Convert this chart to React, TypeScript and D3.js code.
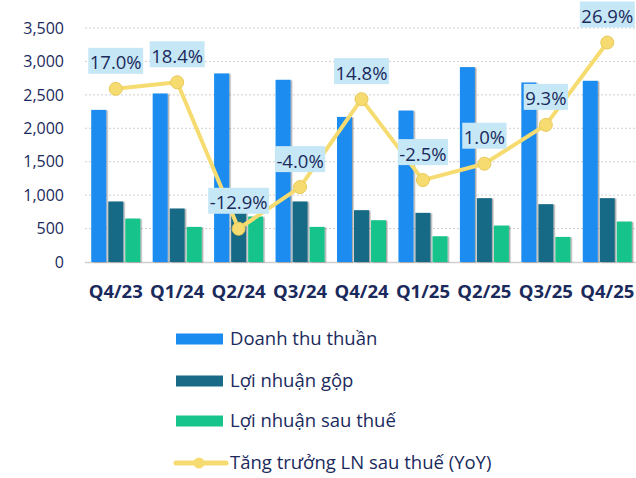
import React, { useEffect, useRef } from "react";
import * as d3 from "d3";

const categories = ["Q4/23", "Q1/24", "Q2/24", "Q3/24", "Q4/24", "Q1/25", "Q2/25", "Q3/25", "Q4/25"];
const revenue = [2275, 2520, 2820, 2725, 2170, 2265, 2915, 2685, 2710];
const grossProfit = [905, 800, 910, 905, 775, 735, 955, 865, 955];
const netProfit = [650, 525, 680, 525, 625, 385, 545, 375, 605];
const growth = [17.0, 18.4, -12.9, -4.0, 14.8, -2.5, 1.0, 9.3, 26.9];
const yTicks = [0, 500, 1000, 1500, 2000, 2500, 3000, 3500];
const seriesNames = ["Doanh thu thuần", "Lợi nhuận gộp", "Lợi nhuận sau thuế", "Tăng trưởng LN sau thuế (YoY)"];
const colors = ["#1a8cf0", "#196a86", "#17c48b"];
const lineColor = "#f6dc70";
const textColor = "#1b2a5c";
const FONT = "'Open Sans', 'Noto Sans', sans-serif";

export default function App() {
  const ref = useRef<SVGSVGElement | null>(null);
  useEffect(() => {
    const svg = d3.select(ref.current);
    svg.selectAll("*").remove();
    const x0 = d3.scaleBand<string>().domain(categories).range([85, 638]).padding(0);
    const groupW = 49;
    const x1 = d3.scaleBand<number>().domain([0, 1, 2]).range([0, groupW]).paddingInner(0.12);
    const y = d3.scaleLinear().domain([0, 3500]).range([262, 28]);
    const y2 = d3.scaleLinear().domain([-20, 30]).range([262, 28]);

    const defs = svg.append("defs");
    const f = defs.append("filter").attr("id", "sh").attr("x", "-20%").attr("y", "-5%").attr("width", "150%").attr("height", "110%");
    f.append("feDropShadow").attr("dx", 1.5).attr("dy", 0.5).attr("stdDeviation", 0.7).attr("flood-color", "#000").attr("flood-opacity", 0.35);

    svg.append("g").selectAll("line").data(yTicks.slice(1)).join("line")
      .attr("x1", 85).attr("x2", 636).attr("y1", d => y(d)).attr("y2", d => y(d))
      .attr("stroke", "#cfcfcf").attr("stroke-width", 1).attr("stroke-dasharray", "2,2");
    svg.append("line").attr("x1", 85).attr("x2", 636).attr("y1", y(0) + 0.5).attr("y2", y(0) + 0.5)
      .attr("stroke", "#d0d0d0").attr("stroke-width", 1.5);

    svg.append("g").selectAll("text").data(yTicks).join("text")
      .attr("x", 64).attr("y", d => y(d)).attr("dy", "0.36em").attr("text-anchor", "end")
      .attr("font-family", FONT).attr("font-size", 16).attr("fill", textColor)
      .text(d => d3.format(",")(d));

    svg.append("g").selectAll("text").data(categories).join("text")
      .attr("x", d => (x0(d) as number) + x0.bandwidth() / 2).attr("y", 298)
      .attr("text-anchor", "middle").attr("font-family", FONT).attr("font-weight", 700)
      .attr("font-size", 18.5).attr("fill", textColor).text(d => d);

    const series = [revenue, grossProfit, netProfit];
    const off = (x0.bandwidth() - groupW) / 2;
    series.forEach((vals, si) => {
      svg.append("g").attr("filter", "url(#sh)").selectAll("rect").data(vals).join("rect")
        .attr("x", (_, i) => (x0(categories[i]) as number) + off + (x1(si) as number))
        .attr("width", x1.bandwidth())
        .attr("y", d => y(d)).attr("height", d => y(0) - y(d))
        .attr("fill", colors[si]);
    });

    const cx = (i: number) => (x0(categories[i]) as number) + x0.bandwidth() / 2;
    const line = d3.line<number>().x((_, i) => cx(i)).y(d => y2(d));
    svg.append("path").datum(growth).attr("d", line).attr("fill", "none")
      .attr("stroke", lineColor).attr("stroke-width", 4).attr("stroke-linejoin", "round");
    svg.append("g").selectAll("circle").data(growth).join("circle")
      .attr("cx", (_, i) => cx(i)).attr("cy", d => y2(d)).attr("r", 6.5)
      .attr("fill", lineColor).attr("stroke", "#e8c95a").attr("stroke-width", 1);

    const lg = svg.append("g");
    growth.forEach((v, i) => {
      const g = lg.append("g");
      const px = cx(i), py = y2(v);
      const bottom = py - 15;
      const t = g.append("text").attr("x", px).attr("y", bottom - 4.5).attr("text-anchor", "middle")
        .attr("font-family", FONT).attr("font-size", 18.5).attr("fill", textColor)
        .text(v.toFixed(1) + "%");
      const w = (t.node() as SVGTextElement).getComputedTextLength() + 3;
      g.insert("rect", "text").attr("x", px - w / 2).attr("y", bottom - 26).attr("width", w).attr("height", 26)
        .attr("fill", "#c6e7f6");
    });

    const legY = [339, 381, 421, 463];
    seriesNames.forEach((name, i) => {
      const cy = legY[i];
      if (i < 3) {
        svg.append("rect").attr("x", 176).attr("y", cy - 5.5).attr("width", 47).attr("height", 11).attr("fill", colors[i]);
      } else {
        svg.append("line").attr("x1", 176).attr("x2", 226).attr("y1", cy).attr("y2", cy)
          .attr("stroke", lineColor).attr("stroke-width", 5).attr("stroke-linecap", "round");
        svg.append("circle").attr("cx", 199).attr("cy", cy).attr("r", 5.5).attr("fill", lineColor);
      }
      svg.append("text").attr("x", 230).attr("y", cy).attr("dy", "0.35em")
        .attr("font-family", FONT).attr("font-size", 18.5).attr("fill", textColor).text(name);
    });
  }, []);
  return (
    <svg ref={ref} width={636} height={478}
      style={{ position: "absolute", left: 0, top: 0, background: "#fff" }} />
  );
}
